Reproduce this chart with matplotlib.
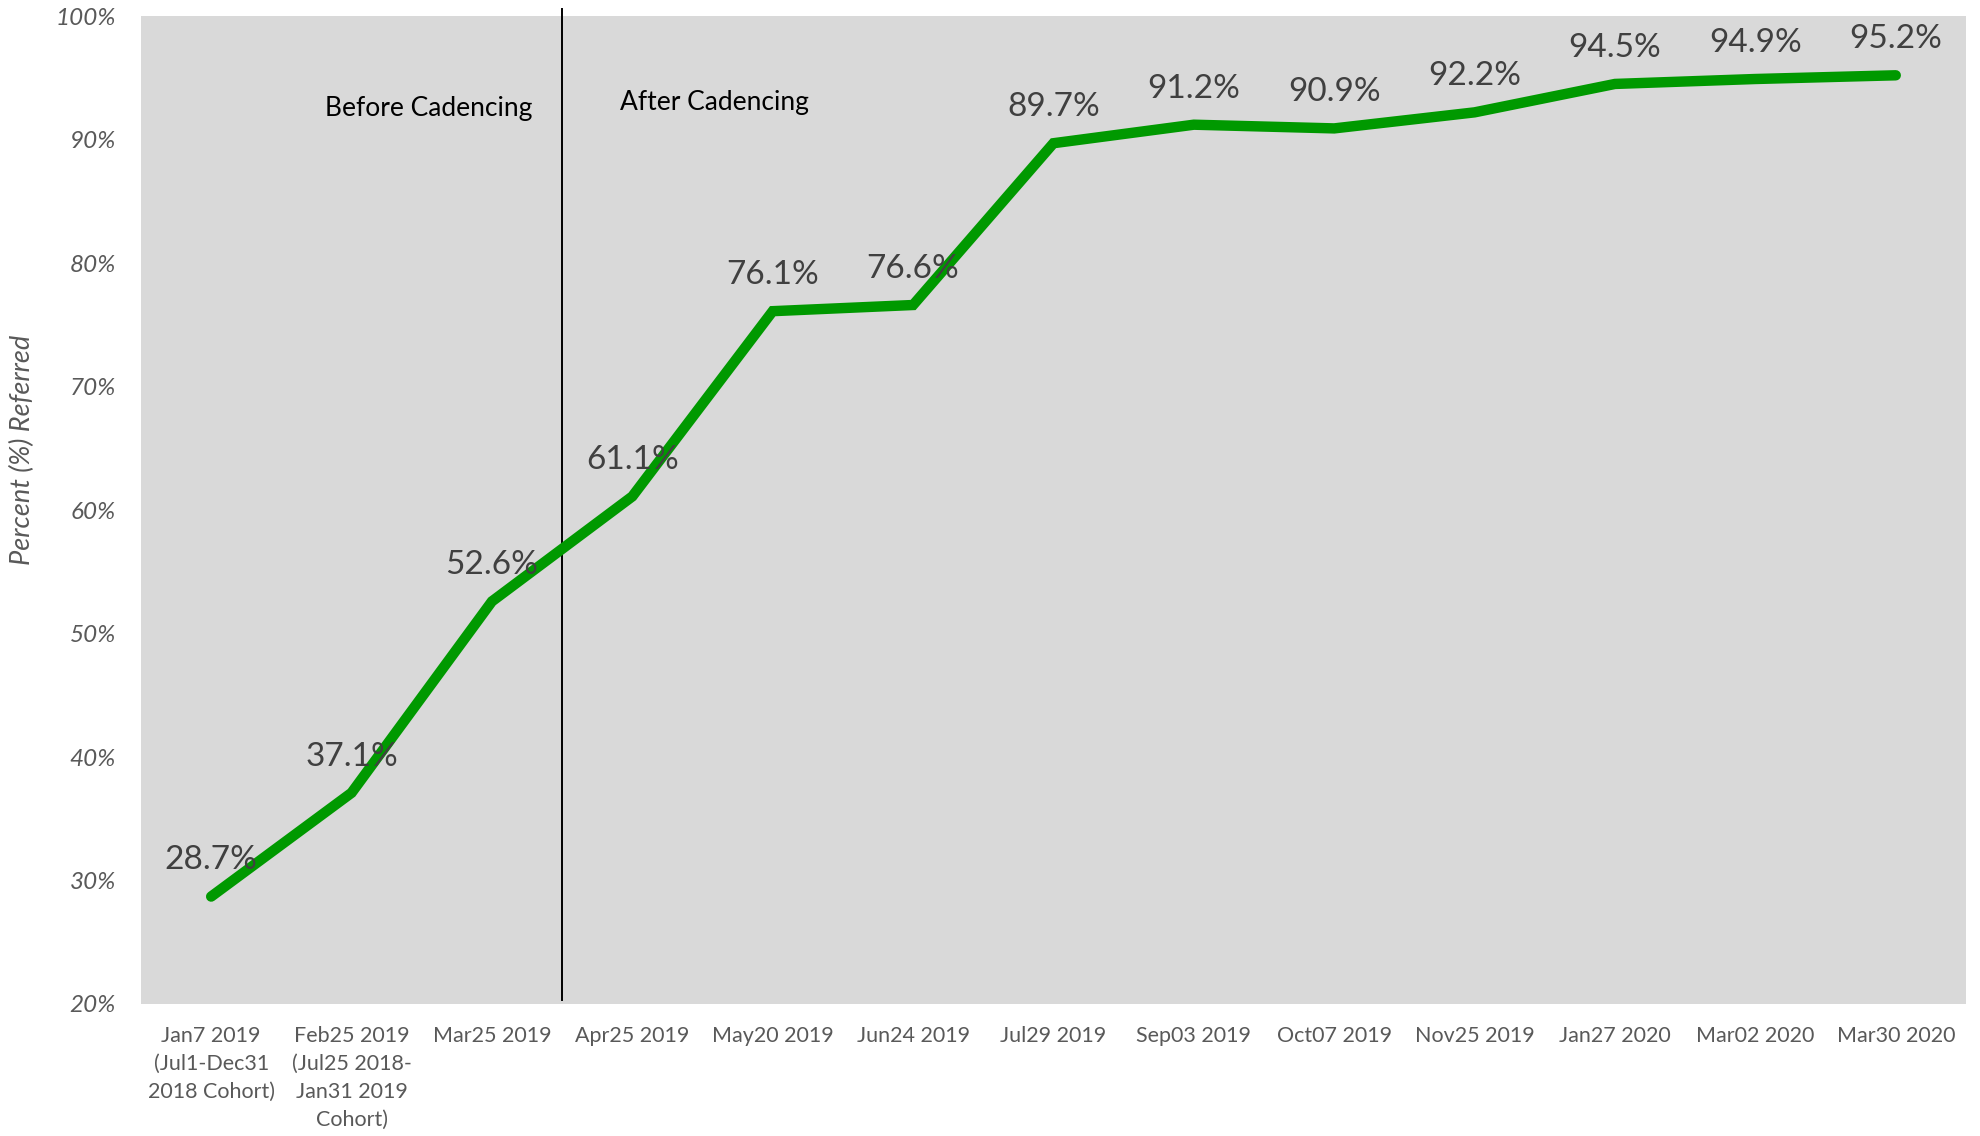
import matplotlib.pyplot as plt

plt.rcParams["font.family"] = ["Lato", "DejaVu Sans"]

dates = ["Jan7 2019\n(Jul1-Dec31\n2018 Cohort)", "Feb25 2019\n(Jul25 2018-\nJan31 2019\nCohort)",
         "Mar25 2019", "Apr25 2019", "May20 2019", "Jun24 2019", "Jul29 2019", "Sep03 2019",
         "Oct07 2019", "Nov25 2019", "Jan27 2020", "Mar02 2020", "Mar30 2020"]
pct_referred = [28.7, 37.1, 52.6, 61.1, 76.1, 76.6, 89.7, 91.2, 90.9, 92.2, 94.5, 94.9, 95.2]
yticks = [20, 30, 40, 50, 60, 70, 80, 90, 100]

fig = plt.figure(figsize=(19.8, 11.36), dpi=100)
ax = fig.add_axes([0.0712, 0.1162, 0.9217, 0.8697])
ax.set_facecolor("#d9d9d9")

x = list(range(len(dates)))
ax.plot(x, pct_referred, color="#009900", linewidth=7.5, solid_capstyle="round",
        solid_joinstyle="miter", zorder=3)

for xi, v in zip(x, pct_referred):
    ax.annotate(f"{v:.1f}%", (xi, v), xytext=(0, 19.5), textcoords="offset points",
                ha="center", va="baseline", fontsize=24, color="#404040", zorder=4)

# cadencing split
ax.axvline(2.5, ymin=0.004, ymax=1.007, color="black", linewidth=1.4, clip_on=False)
ax.text(2.29, 92.5, "Before Cadencing", ha="right", va="center", fontsize=19, color="black")
ax.text(2.91, 93.0, "After Cadencing", ha="left", va="center", fontsize=19, color="black")

ax.set_xlim(-0.5, len(dates) - 0.5)
ax.set_ylim(20, 100)
ax.set_xticks(x)
ax.set_xticklabels(dates, fontsize=15.5, color="#595959", linespacing=1.5)
ax.set_yticks(yticks)
ax.set_yticklabels([f"{t}%" for t in yticks], fontsize=17.5, color="#595959", style="italic")
ax.tick_params(axis="both", length=0)
ax.tick_params(axis="y", pad=18)
ax.tick_params(axis="x", pad=16)
for s in ax.spines.values():
    s.set_visible(False)

fig.text(0.0116, 0.604, "Percent (%) Referred", rotation=90, ha="center", va="center",
         fontsize=19.5, color="#595959", style="italic")

fig.savefig("out.png", dpi=100)
